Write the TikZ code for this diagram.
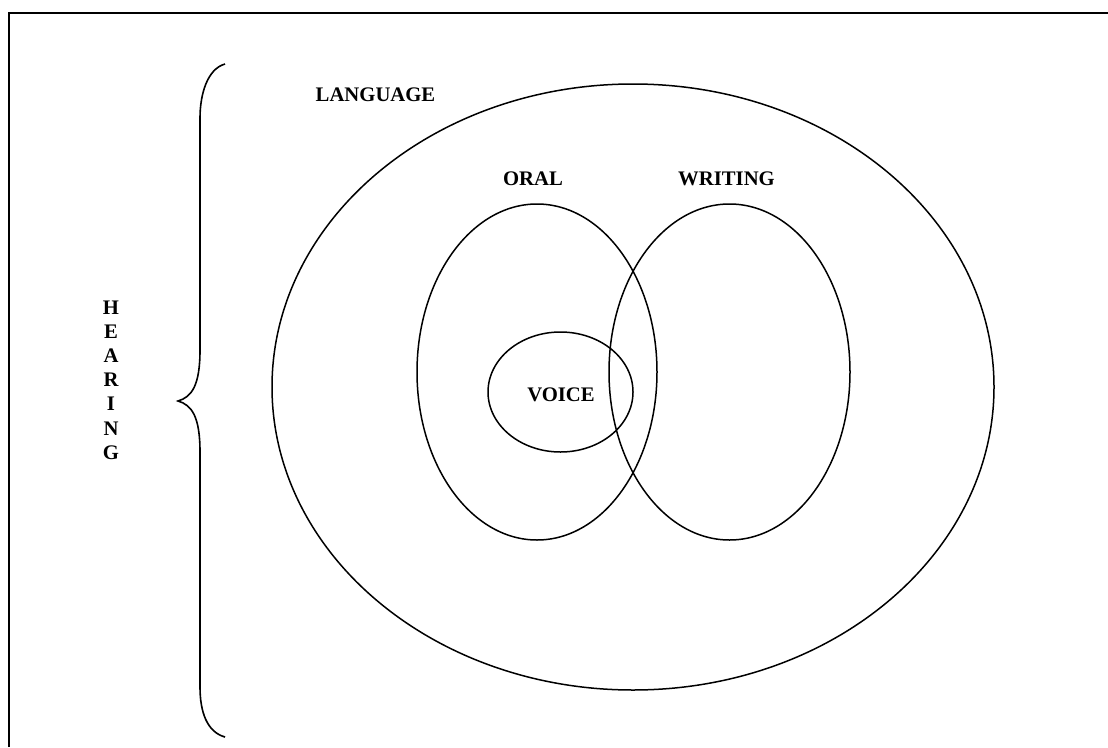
\documentclass[tikz,border=0pt]{standalone}
\usepackage{fontspec}
\setmainfont{Liberation Serif}
\usetikzlibrary{shapes.geometric}
\begin{document}
\begin{tikzpicture}[x=1pt,y=-1pt,
  ring/.style={draw,ellipse,line width=1.5pt,inner sep=0pt,outer sep=0pt},
  lbl/.style={font=\fontsize{20.7}{24.2}\selectfont\bfseries,inner sep=0pt},
  frame/.style={line width=2pt},
  brace/.style={line width=1.6pt}]
\useasboundingbox (0,0) rectangle (1108,747);
% frame (top and left edges)
\coordinate (fbl) at (8.5,747);
\coordinate (ftl) at (8.5,12.5);
\coordinate (ftr) at (1108,12.5);
\draw[frame] (fbl) -- (ftl) -- (ftr);
% nested sets
\node[ring,minimum width=722pt,minimum height=606pt] (language) at (633,387) {};
\node[ring,minimum width=240pt,minimum height=336pt] (oral) at (537,372) {};
\node[ring,minimum width=241pt,minimum height=336pt] (writing) at (729.5,372) {};
\node[ring,minimum width=145pt,minimum height=120pt] (voice) at (560.5,392) {};
% labels
\node[lbl] (tlanguage) at (375.5,95) {LANGUAGE};
\node[lbl] (toral) at (533,179) {ORAL};
\node[lbl] (twriting) at (726.5,179) {WRITING};
\node[lbl] (tvoice) at (561,394.5) {VOICE};
\node[lbl,align=center] (thearing) at (111,380) {H\\E\\A\\R\\I\\N\\G};
% curly brace
\coordinate (btop) at (225,64);
\coordinate (btip) at (178,401);
\coordinate (bbot) at (225,737);
\draw[brace] (btop) .. controls (207,69) and (200,95) .. (200,118)
  -- (200,350) .. controls (200,385) and (192,397) .. (btip)
  .. controls (192,405) and (200,417) .. (200,452)
  -- (200,687) .. controls (200,712) and (207,732) .. (bbot);
\end{tikzpicture}
\end{document}
